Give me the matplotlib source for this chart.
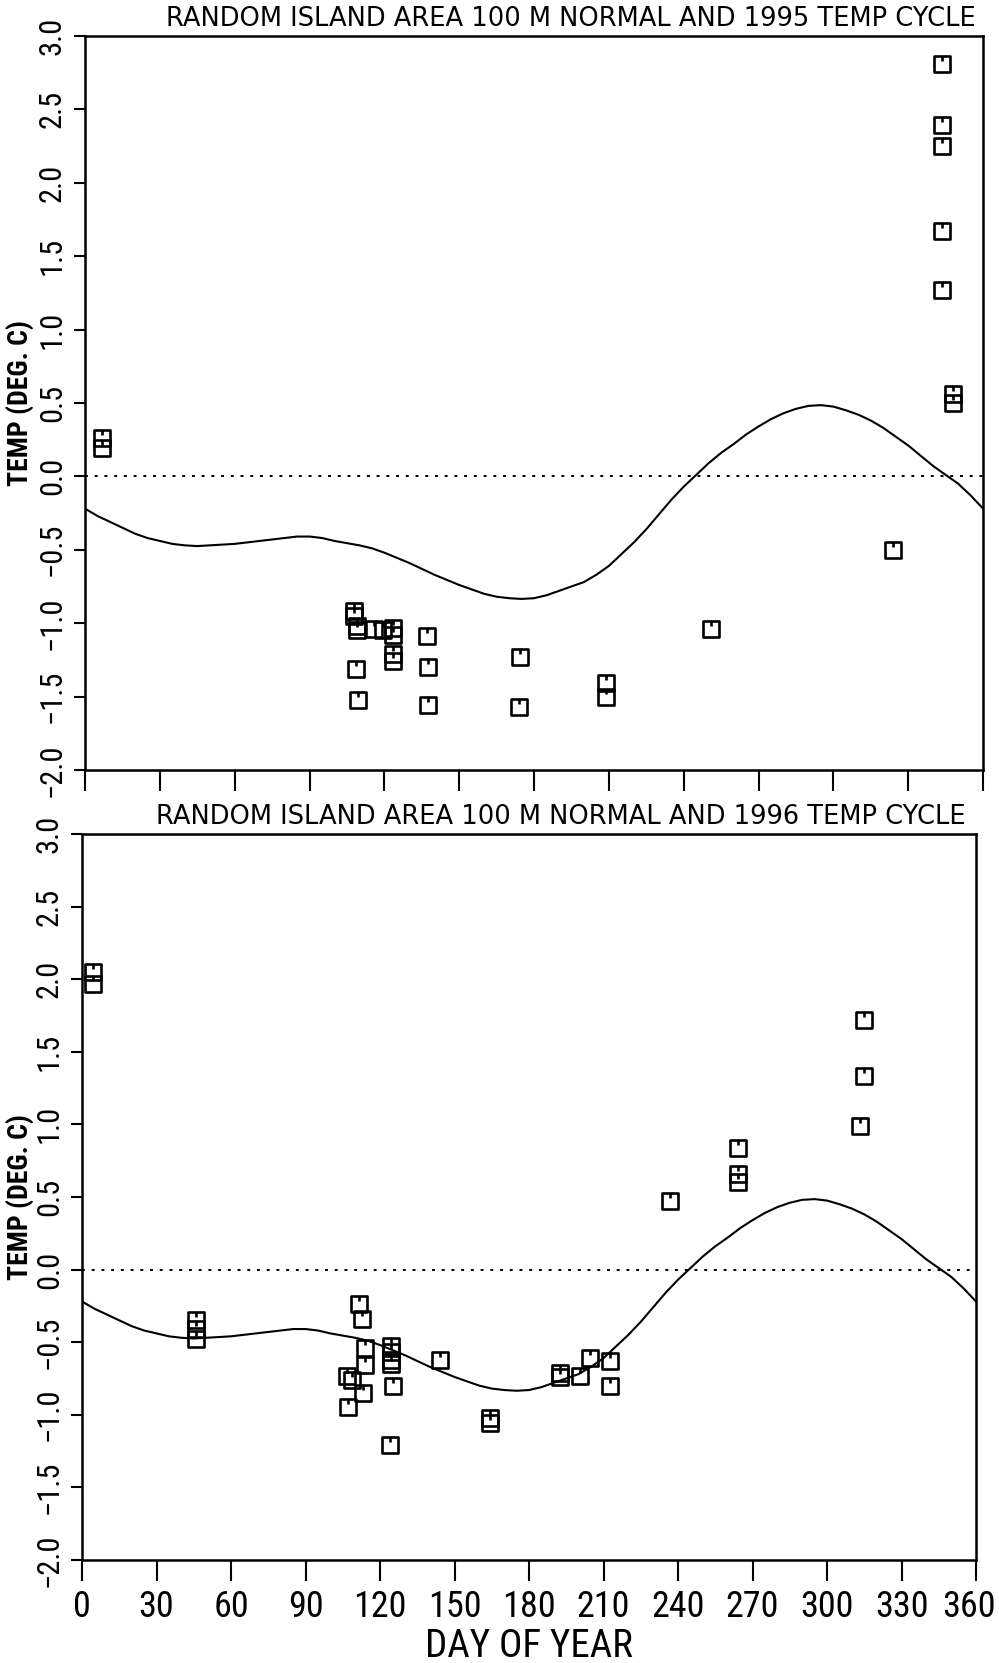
import matplotlib.pyplot as plt
from matplotlib.path import Path
from matplotlib.transforms import ScaledTranslation

# 1995 observations at 100 m
days_1995 = [7, 7, 108, 108, 109, 109, 108.5, 109.5, 116, 119.5, 123.5, 123.5,
             123.5, 123.5, 137, 137.5, 137.5, 174.5, 174, 209, 209, 251, 324,
             343.5, 343.5, 343.5, 343.5, 343.5, 348, 348]
temps_1995 = [0.26, 0.19, -0.92, -0.95, -1.02, -1.05, -1.31, -1.52, -1.04, -1.05,
              -1.03, -1.08, -1.21, -1.26, -1.09, -1.30, -1.56, -1.23, -1.57, -1.41,
              -1.50, -1.04, -0.50, 2.81, 2.39, 2.25, 1.67, 1.27, 0.56, 0.50]

# 1996 observations at 100 m
days_1996 = [4.5, 4.5, 46, 46, 46, 106.6, 107.3, 108.6, 111.7, 112.6, 113.3, 114,
             114, 124.4, 124.4, 124.4, 124.4, 125.4, 124, 144.2, 164.3, 164.3,
             192.5, 192.5, 200.6, 204.6, 212.6, 212.6, 236.8, 264, 264, 264, 313.3,
             314.7, 314.7]
temps_1996 = [2.05, 1.97, -0.35, -0.41, -0.48, -0.73, -0.95, -0.76, -0.24, -0.34,
              -0.85, -0.54, -0.66, -0.53, -0.57, -0.62, -0.65, -0.80, -1.21, -0.62,
              -1.02, -1.06, -0.71, -0.74, -0.73, -0.61, -0.63, -0.80, 0.47, 0.84,
              0.66, 0.60, 0.99, 1.72, 1.33]

# normal annual cycle, every 5 days
normal_days = list(range(0, 361, 5))
normal_temps = [-0.22, -0.27, -0.31, -0.35, -0.39, -0.42, -0.44, -0.46, -0.47, -0.475,
                -0.47, -0.465, -0.46, -0.45, -0.44, -0.43, -0.42, -0.41, -0.41, -0.42,
                -0.44, -0.455, -0.47, -0.49, -0.52, -0.555, -0.59, -0.63, -0.67, -0.705,
                -0.74, -0.77, -0.80, -0.82, -0.83, -0.835, -0.83, -0.81, -0.78, -0.75,
                -0.72, -0.67, -0.61, -0.53, -0.45, -0.36, -0.26, -0.16, -0.07, 0.01,
                0.09, 0.16, 0.22, 0.285, 0.34, 0.39, 0.43, 0.46, 0.48, 0.485,
                0.475, 0.45, 0.42, 0.38, 0.33, 0.27, 0.21, 0.14, 0.07, 0.01,
                -0.05, -0.13, -0.22]

titles = ["RANDOM ISLAND AREA 100 M NORMAL AND 1995 TEMP CYCLE",
          "RANDOM ISLAND AREA 100 M NORMAL AND 1996 TEMP CYCLE"]
xticks = list(range(0, 361, 30))
yticks = [-2.0, -1.5, -1.0, -0.5, 0.0, 0.5, 1.0, 1.5, 2.0, 2.5, 3.0]

plt.rcParams['font.family'] = ['Roboto Condensed', 'Roboto', 'DejaVu Sans']

# square symbol with a short tick hanging from the top edge
box = Path([(-1, -1), (1, -1), (1, 1), (-1, 1), (-1, -1), (0, 1), (0, 0.4)],
           [Path.MOVETO, Path.LINETO, Path.LINETO, Path.LINETO, Path.CLOSEPOLY,
            Path.MOVETO, Path.LINETO])

fig = plt.figure(figsize=(9.99, 16.63), dpi=100)
ax1 = fig.add_axes([0.0851, 0.5370, 0.899, 0.4414])
ax2 = fig.add_axes([0.0821, 0.0620, 0.8949, 0.4365])

panels = [(ax1, days_1995, temps_1995, titles[0], 0.992, -0.057),
          (ax2, days_1996, temps_1996, titles[1], 0.988, -0.054)]
for ax, d, t, title, tx, lx in panels:
    ax.plot(normal_days, normal_temps, color='black', lw=1.5)
    ax.plot([0, 360], [0, 0], color='black', lw=1.4, ls=(0, (1.5, 3.5)))
    ax.plot(d, t, ls='none', marker=box, ms=11, mew=1.9, mfc='none', mec='black')
    ax.set_xlim(0, 360)
    ax.set_ylim(-2.0, 3.0)
    ax.set_xticks(xticks)
    ax.set_yticks(yticks)
    ax.set_yticklabels([f"{v:.1f}".replace('-', '\u2212') for v in yticks],
                       rotation=90, va='center', fontsize=22)
    ax.tick_params(axis='x', direction='out', length=15, width=1.5, labelsize=26, pad=6)
    ax.tick_params(axis='y', direction='out', length=8, width=1.5, pad=5)
    for s in ax.spines.values():
        s.set_linewidth(1.8)
    ax.set_ylabel("TEMP (DEG. C)", fontsize=20, fontweight='bold')
    ax.yaxis.set_label_coords(lx, 0.5)
    ax.text(tx, 1.006, title, transform=ax.transAxes, ha='right', va='bottom',
            fontsize=18.5, family='DejaVu Sans')

ax1.set_xticklabels([])
ax2.set_xlabel("DAY OF YEAR", fontsize=28, labelpad=2)

# nudge the last day label so it stays inside the page
last = ax2.get_xticklabels()[-1]
last.set_transform(last.get_transform() + ScaledTranslation(-5 / 72, 0, fig.dpi_scale_trans))

fig.savefig("out.png", dpi=100)
